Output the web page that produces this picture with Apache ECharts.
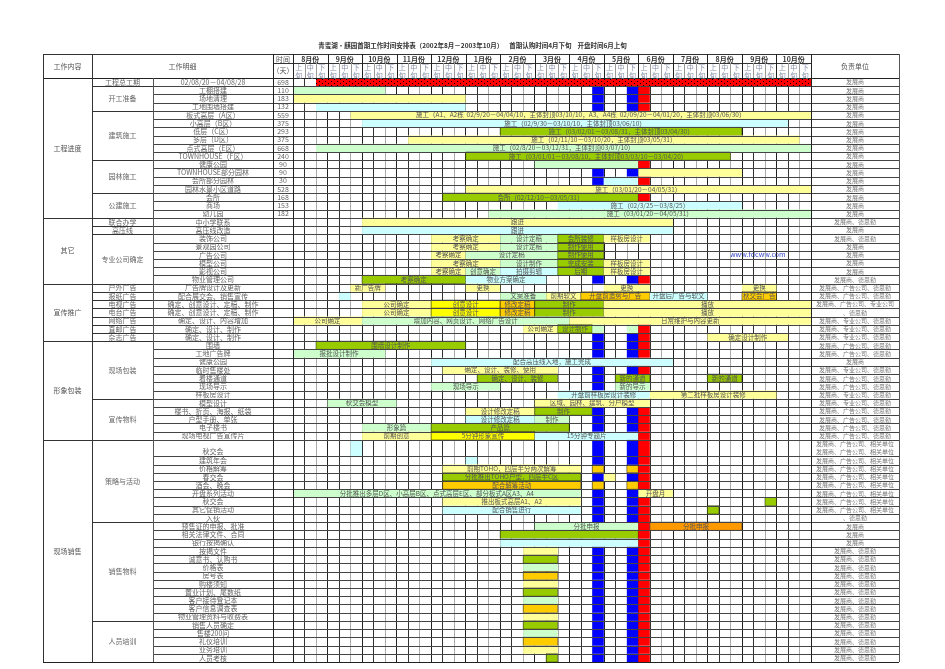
<!DOCTYPE html>
<html>
<head>
<meta charset="utf-8">
<title>青蜜湖·麒园首期工作时间安排表</title>
<script src="https://cdn.jsdelivr.net/npm/echarts@6/dist/echarts.min.js"></script>
<style>
html,body{margin:0;padding:0;background:#fff;}
#main{width:945px;height:669px;}
</style>
</head>
<body>
<div id="main"></div>
<script>
var FONT = '"Noto Sans CJK SC","Noto Sans",sans-serif';

// 时间轴：2002年8月 - 2003年10月，每月上中下旬，共45旬
var months = ['8月份','9月份','10月份','11月份','12月份','1月份','2月份','3月份','4月份','5月份','6月份','7月份','8月份','9月份','10月份'];
var xun = ['上','中','下'];

// 工作内容（第一列）
var groups = [['工程进度',17],['其它',8],['宣传推广',7],['形象包装',12],['现场销售',26]];
// 工作明细（第二列）
var subGroups = [['工程总工期',1],['开工准备',3],['建筑施工',6],['园林施工',4],['公建施工',3],
  ['联合办学',1],['高压线',1],['专业公司确定',6],
  ['户外广告',1],['报纸广告',1],['电视广告',1],['电台广告',1],['网络广告',1],['直邮广告',1],['杂志广告',1],
  ['现场包装',7],['宣传物料',5],['策略与活动',9],['销售物料',12],['人员培训',5]];
// 工作明细（第三列）
var items = ['02/08/20－04/08/28','工棚搭建','场地清理','工地围墙搭建','板式高层（A区）','小高层（B区）','低层（C区）','多层（D区）','点式高层（E区）','TOWNHOUSE（F区）',
  '健康公园','TOWNHOUSE部分园林','会所部分园林','园林水景小区道路','会所','商场','幼儿园',
  '中小学联系','高压线改造','装饰公司','景观园公司','广告公司','模型公司','影视公司','物业管理公司',
  '广告牌设计及更新','配合展交会、销售宣传','确定、创意设计、定稿、制作','确定、创意设计、定稿、制作','确定、设计、内容增加','确定、设计、制作','确定、设计、制作',
  '围墙','工地广告牌','健康公园','临时售楼处','看楼通道','现场导示','样板房设计',
  '模型设计','楼书、折页、海报、纸袋','户型手册、单张','电子楼书','现场电视广告宣传片',
  '秋交会','建筑年会','价格解筹','春交会','酒会、晚会','开盘系列活动','秋交会','其它促销活动','入伙',
  '预售证的申报、批准','相关法律文件、合同','银行按揭确认','按揭文件','诚意书、认购书','价格表','房号表','购楼须知','置业计划、尾数纸','客户接待登记本','客户信息调查表','物业管理资料与收费表',
  '销售人员确定','售楼200问','礼仪培训','业务培训','人员考核'];
// 时间（天）
var days = ['698','110','183','132','559','375','293','375','668','240','90','90','30','528','168','153','182'];
// 负责单位
var owners = ['发展商','发展商','发展商','发展商','发展商','发展商','发展商','发展商','发展商','发展商',
  '发展商','发展商','发展商','发展商','发展商','发展商','发展商',
  '发展商、德思勤','发展商','发展商、德思勤','发展商','发展商','发展商','发展商','发展商、德思勤',
  '发展商、广告公司、德思勤','发展商、广告公司、德思勤','发展商、广告公司、专业公司','、德思勤','发展商、专业公司、德思勤','发展商、专业公司、德思勤','发展商、专业公司、德思勤',
  '发展商、广告公司、德思勤','发展商、广告公司、德思勤','发展商','发展商、专业公司、德思勤','发展商、广告公司、德思勤','发展商、广告公司、德思勤','发展商、专业公司、德思勤',
  '发展商、专业公司、德思勤','发展商、广告公司、德思勤','发展商、广告公司、德思勤','发展商、广告公司、德思勤','发展商、广告公司、德思勤',
  '发展商、广告公司、相关单位\n发展商、广告公司、相关单位','发展商、广告公司、相关单位','发展商、广告公司、相关单位','发展商、广告公司、相关单位','发展商、广告公司、相关单位','发展商、广告公司、相关单位','发展商、广告公司、相关单位','发展商、广告公司、相关单位','、德思勤',
  '发展商','发展商','发展商','发展商、德思勤','发展商、德思勤','发展商、德思勤','发展商、德思勤','发展商、德思勤','发展商、德思勤','发展商、德思勤','发展商、德思勤','发展商、德思勤',
  '发展商、德思勤','发展商、德思勤','发展商、德思勤','发展商、德思勤','发展商、德思勤'];
// 行高（秋交会一行为两格）
var rowSpan = [];
for (var k = 0; k < items.length; k++) rowSpan.push(k === 44 ? 2 : 1);

// 颜色
var colors = {red:'#ff0000', blue:'#0000ff', lg:'#ccffcc', ly:'#ffff99', cy:'#ccffff', gr:'#99cc00', yl:'#ffff00', or:'#ffcc00', dor:'#ff9900'};

// 任务：[行, 起始旬, 结束旬, 颜色, 文字]
var tasks = [
  [1,2,45,'dot',''],
  [2,0,8,'lg',''],[3,0,15,'ly',''],[4,2,15,'cy',''],
  [5,5,45,'ly','施工（A1、A2栋  02/9/20－04/04/10，主体封顶03/10/10，A3、A4栋  02/09/20－04/01/20，主体封顶03/06/30）'],
  [6,6,43,'cy','施工（02/9/30－03/10/10，主体封顶03/06/10）'],
  [7,18,39,'gr','施工（03/02/01－03/08/31，主体封顶03/04/30）'],
  [8,10,44,'ly','施工（02/11/10－03/10/20，主体封顶03/05/31）'],
  [9,2,45,'lg','施工（02/8/20－03/12/31，主体封顶03/07/10）'],
  [10,15,38,'gr','施工（03/01/01－03/08/10，主体封顶03/03/10－03/04/20）'],
  [11,21,30,'lg',''],[11,30,31,'red',''],
  [12,26,27,'blue',''],[12,29,30,'blue',''],[12,30,39,'ly',''],
  [13,26,27,'blue',''],[13,27,30,'cy',''],[13,30,31,'red',''],
  [14,15,45,'ly','施工（03/01/20－04/05/31）'],
  [15,13,30,'gr','会所（02/12/10－03/05/31）'],[15,30,31,'red',''],
  [16,23,39,'cy','施工（02/3/25－03/8/25）'],
  [17,17,45,'lg','施工（03/01/20－04/05/31）'],
  [18,6,33,'ly','跟进'],[19,6,33,'cy','跟进'],
  [20,12,18,'ly','考察确定'],[20,18,23,'lg','设计定稿'],[20,23,27,'gr','会所装修'],[20,27,31,'ly','样板房设计'],
  [21,12,18,'ly','考察确定'],[21,18,23,'lg','设计定稿'],[21,23,27,'gr','制作使用'],
  [22,12,15,'ly','考察确定'],[22,15,23,'lg','设计定稿'],[22,23,27,'gr','制作使用'],
  [23,12,18,'ly','考察确定'],[23,18,23,'lg','设计制作'],[23,23,27,'gr','完成安装'],[23,27,31,'ly','样板房设计'],
  [24,12,15,'ly','考察确定'],[24,15,18,'lg','创意确定'],[24,18,23,'cy','拍摄剪辑'],[24,23,27,'gr','后期'],[24,27,31,'ly','样板房设计'],
  [25,6,15,'gr','考察确定'],[25,15,22,'cy','物业方案确定'],
  [26,5,8,'ly','新广告牌'],[26,15,18,'ly','更换'],[26,27,31,'ly','更换'],[26,39,42,'ly','更换'],
  [27,4,5,'cy',''],[27,18,22,'lg','文案准备'],[27,22,25,'ly','前期软文'],[27,25,31,'or','开盘前造势与广告'],[27,31,36,'cy','开盘后广告与软文'],[27,39,42,'or','秋交会广告'],
  [28,6,12,'ly','公司确定'],[28,12,18,'yl','创意设计'],[28,18,21,'or','修改定稿'],[28,21,27,'gr','制作'],[28,27,45,'ly','播放'],
  [29,6,12,'ly','公司确定'],[29,12,18,'yl','创意设计'],[29,18,21,'or','修改定稿'],[29,21,27,'gr','制作'],[29,27,45,'ly','播放'],
  [30,0,6,'ly','公司确定'],[30,6,24,'lg','增加内容、网页设计、网络广告设计'],[30,24,45,'ly','日常维护与内容更新'],
  [31,20,23,'ly','公司确定'],[31,23,26,'gr','设计制作'],[31,26,27,'lg',''],[31,29,30,'lg',''],[31,30,31,'red',''],
  [32,36,43,'ly','确定设计制作'],
  [33,2,15,'gr','围墙设计制作'],
  [34,0,8,'lg','报批设计制作'],
  [35,12,33,'cy','配合高压线入地，施工完成'],
  [36,13,23,'ly','确定、设计、装修、使用'],
  [37,16,23,'gr','确定、设计、装修'],[37,26,27,'blue',''],[37,28,31,'gr','新的通道'],[37,36,39,'gr','新的通道'],
  [38,12,18,'lg','现场导示'],[38,26,27,'blue',''],[38,28,31,'lg','新的导示'],
  [39,23,31,'cy','开盘前样板房设计装修'],[39,31,42,'ly','第二批样板房设计装修'],
  [40,3,9,'lg','秋交会模型'],[40,21,31,'ly','区域、园林、建筑、分户模型'],
  [41,15,21,'ly','设计修改定稿'],[41,21,26,'gr','制作'],
  [42,15,21,'cy','设计修改定稿'],[42,21,24,'lg','制作'],
  [43,6,12,'lg','形象篇'],[43,12,24,'gr','产品篇'],
  [44,6,12,'ly','前期创意'],[44,12,21,'yl','5分钟形象宣传'],[44,21,30,'cy','15分钟专题片'],[44,30,31,'red',''],
  [45,5,6,'cy',''],
  [46,15,16,'cy',''],
  [47,13,25,'ly','前期TOHO，四层半分两次解筹'],[47,26,27,'or',''],[47,29,30,'or',''],[47,30,31,'red',''],
  [48,13,25,'gr','分批推出TOHO户型，四层半C区'],[48,26,27,'blue',''],[48,27,28,'ly',''],[48,29,30,'blue',''],[48,30,31,'red',''],
  [49,13,25,'or','配合解筹活动'],[49,26,27,'or',''],[49,29,30,'or',''],[49,30,31,'red',''],
  [50,0,25,'lg','分批推出多层D区、小高层B区、点式高层E区、部分板式A区A3、A4'],[50,26,27,'blue',''],[50,29,30,'blue',''],[50,30,33,'ly','开盘月'],
  [51,13,25,'ly','推出板式高层A1、A2'],[51,41,42,'gr',''],
  [52,13,25,'cy','配合销售进行'],[52,36,37,'gr',''],
  [54,21,30,'lg','分批申报'],[54,30,31,'red',''],[54,31,39,'dor','分批申报'],
  [55,18,30,'gr',''],[55,30,31,'red',''],
  [56,18,30,'cy',''],[56,30,31,'red',''],
  [57,20,23,'ly',''],[58,20,23,'gr',''],[59,20,23,'lg',''],[60,20,23,'or',''],
  [61,20,23,'ly',''],[62,20,23,'gr',''],[63,20,23,'lg',''],[64,20,23,'or',''],
  [65,20,23,'ly',''],[66,20,23,'gr',''],[67,20,23,'lg',''],[68,20,23,'or',''],
  [69,20,23,'ly',''],[70,22,23,'gr','']
];
// 首期认购（4月下旬、5月下旬）与开盘（6月上旬）标记列
var markRows = [2,3,4,25,32,33,34,36,41,42,43,45,46,51,52,53,57,58,59,60,61,62,63,64,65,66,67,68,69,70];
markRows.forEach(function(r){
    tasks.push([r,26,27,'blue','']);
    tasks.push([r,29,30,'blue','']);
    tasks.push([r,30,31,'red','']);
});

var title = '青蜜湖·麒园首期工作时间安排表（2002年8月－2003年10月）    首期认购时间4月下旬    开盘时间6月上旬';

// 表格版式
var COL = {a0:43, a1:92, b1:153, c1:273, d1:293, g1:811, o1:899};
var HEAD = {top:54, mid:63, bot:78};
var LINE = '#444';

var rowTop = [];
var acc = 0;
for (var i = 0; i < rowSpan.length; i++) { rowTop.push(acc); acc += rowSpan[i]; }
var totalUnits = acc;

// 红色点状填充
var dotCanvas = document.createElement('canvas');
dotCanvas.width = 6; dotCanvas.height = 4;
var dctx = dotCanvas.getContext('2d');
dctx.fillStyle = '#ff0000'; dctx.fillRect(0,0,6,4);
dctx.fillStyle = '#000'; dctx.fillRect(1,1,1,1); dctx.fillRect(4,3,1,1);

function px(v){ return Math.round(v) + 0.5; }
function hline(x1,x2,y,c){ return {type:'line', shape:{x1:x1,y1:px(y),x2:x2,y2:px(y)}, style:{stroke:c||LINE,lineWidth:1}}; }
function vline(x,y1,y2,c){ return {type:'line', shape:{x1:px(x),y1:y1,x2:px(x),y2:y2}, style:{stroke:c||LINE,lineWidth:1}}; }
function txt(s,x,y,color,size,weight){
    return {type:'text', style:{text:s, x:x, y:y, align:'center', verticalAlign:'middle',
        fill:color||'#666', fontSize:size||7, fontFamily:FONT, fontWeight:weight||'normal', lineHeight:8}};
}

function renderTask(params, api){
    var t = tasks[params.dataIndex];
    var r = t[0]-1;
    var p0 = api.coord([t[1], rowTop[r]]);
    var p1 = api.coord([t[2], rowTop[r]+rowSpan[r]]);
    var fill = t[3] === 'dot' ? {image: dotCanvas, repeat: 'repeat'} : colors[t[3]];
    var dark = (t[3]==='gr' || t[3]==='or' || t[3]==='dor' || t[3]==='yl');
    var el = {
        type:'rect',
        shape:{x:p0[0], y:p0[1], width:p1[0]-p0[0], height:p1[1]-p0[1]},
        style:{fill:fill, stroke: dark ? 'rgba(0,0,0,0.55)' : null, lineWidth: dark ? 0.8 : 0}
    };
    if (t[4]) {
        el.textContent = {style:{text:t[4], fill:'#555', fontSize:6.5, fontFamily:FONT}};
        el.textConfig = {position:'inside'};
    }
    return el;
}

function renderRow(params, api){
    var i = params.dataIndex;
    var yT = api.coord([0, rowTop[i]])[1];
    var yB = api.coord([0, rowTop[i]+rowSpan[i]])[1];
    var yM = (yT+yB)/2;
    var kids = [hline(COL.b1, COL.o1, yB)];
    var cy = rowSpan[i] > 1 ? yB-5 : yM;
    kids.push(txt(items[i], (COL.b1+COL.c1)/2, cy));
    if (days[i]) kids.push(txt(days[i], (COL.c1+COL.d1)/2, yM));
    kids.push(txt(owners[i], (COL.g1+COL.o1)/2, yM, '#777', 6));
    return {type:'group', children:kids};
}

// 第一、二列的合并单元格
var spans = [];
(function(){
    var s = 0;
    groups.forEach(function(g){ spans.push([0, g[0], s, g[1]]); s += g[1]; });
    s = 0;
    subGroups.forEach(function(g){ spans.push([1, g[0], s, g[1]]); s += g[1]; });
})();

function renderSpan(params, api){
    var sp = spans[params.dataIndex];
    var r0 = sp[2], r1 = sp[2]+sp[3]-1;
    var yT = api.coord([0, rowTop[r0]])[1];
    var yB = api.coord([0, rowTop[r1]+rowSpan[r1]])[1];
    var x0 = sp[0] === 0 ? COL.a0 : COL.a1;
    var x1 = sp[0] === 0 ? COL.a1 : COL.b1;
    return {type:'group', children:[
        hline(x0, x1, yB, '#333'),
        txt(sp[1], (x0+x1)/2, (yT+yB)/2, sp[0]===0 ? '#555' : '#666')
    ]};
}

function renderFrame(params, api){
    var yEnd = api.coord([0, totalUnits])[1];
    var kids = [];
    kids.push(hline(COL.a0, COL.o1, HEAD.top, '#333'));
    kids.push(hline(COL.c1, COL.g1, HEAD.mid, '#333'));
    kids.push(hline(COL.a0, COL.o1, HEAD.bot, '#222'));
    kids.push(hline(COL.a0, COL.o1, yEnd, '#222'));
    kids.push(vline(COL.a0, HEAD.top, yEnd, '#333'));
    kids.push(vline(COL.a1, HEAD.top, yEnd, '#333'));
    kids.push(vline(COL.b1, HEAD.bot, yEnd, '#555'));
    kids.push(vline(COL.c1, HEAD.top, yEnd, '#222'));
    kids.push(vline(COL.d1, HEAD.top, yEnd, '#222'));
    kids.push(vline(COL.g1, HEAD.top, yEnd, '#222'));
    kids.push(vline(COL.o1, HEAD.top, yEnd, '#555'));
    for (var p = 1; p < months.length*3; p++) {
        var x = api.coord([p, 0])[0];
        kids.push(vline(x, p % 3 === 0 ? HEAD.top : HEAD.mid, HEAD.bot, p % 3 === 0 ? '#222' : '#999'));
    }
    months.forEach(function(m, mi){
        var xc = api.coord([mi*3+1.5, 0])[0];
        kids.push(txt(m, xc, (HEAD.top+HEAD.mid)/2+0.5, '#333', 7, 'bold'));
        for (var j = 0; j < 3; j++) {
            var xs = api.coord([mi*3+j+0.5, 0])[0];
            kids.push(txt(xun[j]+'\n旬', xs, (HEAD.mid+HEAD.bot)/2+0.5, '#8890a8', 7));
        }
    });
    kids.push(txt('工作内容', (COL.a0+COL.a1)/2, (HEAD.top+HEAD.bot)/2, '#555'));
    kids.push(txt('工作明细', (COL.a1+COL.c1)/2, (HEAD.top+HEAD.bot)/2, '#555'));
    kids.push(txt('时间', (COL.c1+COL.d1)/2, (HEAD.top+HEAD.mid)/2+0.5, '#555'));
    kids.push(txt('（天）', (COL.c1+COL.d1)/2, (HEAD.mid+HEAD.bot)/2, '#555'));
    kids.push(txt('负责单位', (COL.g1+COL.o1)/2, (HEAD.top+HEAD.bot)/2, '#555'));
    return {type:'group', children:kids};
}

var myChart = echarts.init(document.getElementById('main'), null, {renderer:'canvas'});
var option = {
    animation: false,
    backgroundColor: '#fff',
    title: {
        text: title, left: 'center', top: 42, padding: 0,
        textStyle: {fontSize: 6.5, fontWeight: 'bold', color: '#333', fontFamily: FONT}
    },
    grid: {left: COL.d1, right: 945 - COL.g1, top: HEAD.bot, bottom: 7},
    xAxis: {
        type: 'value', min: 0, max: months.length*3, interval: 1,
        axisLine: {show: false}, axisTick: {show: false}, axisLabel: {show: false},
        splitLine: {show: true, lineStyle: {color: ['#222','#333','#aaa'], width: 1}}
    },
    yAxis: {
        type: 'value', inverse: true, min: 0, max: totalUnits,
        axisLine: {show: false}, axisTick: {show: false}, axisLabel: {show: false},
        splitLine: {show: false}
    },
    graphic: [{
        type: 'text', left: 730, top: 251,
        style: {text: 'www.fdcww.com', fill: '#3344cc', fontSize: 7, fontFamily: FONT}
    }, {
        type: 'line', shape: {x1: 730, y1: 259.5, x2: 776, y2: 259.5}, style: {stroke: '#3344cc', lineWidth: 0.6}
    }],
    series: [
        {type:'custom', name:'tasks', renderItem: renderTask, clip:false, z:2,
         data: tasks.map(function(t){ return [t[1], t[2], t[0]]; }), encode:{x:[0,1], y:2}},
        {type:'custom', name:'rows', renderItem: renderRow, clip:false, z:3,
         data: items.map(function(s, i){ return [0, rowTop[i]]; }), encode:{x:0, y:1}},
        {type:'custom', name:'spans', renderItem: renderSpan, clip:false, z:3,
         data: spans.map(function(s){ return [0, rowTop[s[2]]]; }), encode:{x:0, y:1}},
        {type:'custom', name:'frame', renderItem: renderFrame, clip:false, z:4,
         data: [[0, 0]], encode:{x:0, y:1}}
    ]
};
myChart.setOption(option, true);
</script>
</body>
</html>
